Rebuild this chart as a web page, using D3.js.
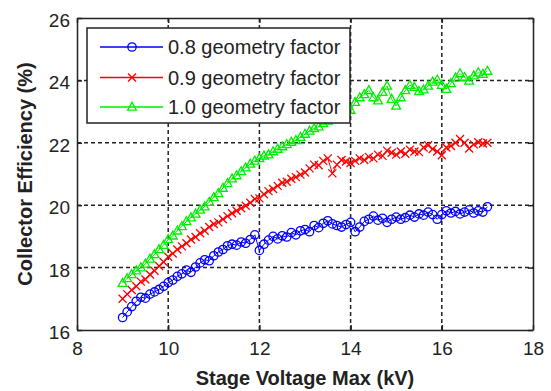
<!DOCTYPE html>
<html>
<head>
<meta charset="utf-8">
<script src="https://cdn.jsdelivr.net/npm/d3@7"></script>
<style>
  body { margin: 0; background: #fff; }
  text { font-family: "Liberation Sans", Arial, sans-serif; fill: #222; }
</style>
</head>
<body>
<svg id="chart" width="551" height="391"></svg>
<script>
// Stage voltage (kV)
const voltage = [
  9.0, 9.1, 9.2, 9.3, 9.4, 9.5, 9.6, 9.7, 9.8, 9.9,
  10.0, 10.1, 10.2, 10.3, 10.4, 10.5, 10.6, 10.7, 10.8, 10.9,
  11.0, 11.1, 11.2, 11.3, 11.4, 11.5, 11.6, 11.7, 11.8, 11.9,
  12.0, 12.1, 12.2, 12.3, 12.4, 12.5, 12.6, 12.7, 12.8, 12.9,
  13.0, 13.1, 13.2, 13.3, 13.4, 13.5, 13.6, 13.7, 13.8, 13.9,
  14.0, 14.1, 14.2, 14.3, 14.4, 14.5, 14.6, 14.7, 14.8, 14.9,
  15.0, 15.1, 15.2, 15.3, 15.4, 15.5, 15.6, 15.7, 15.8, 15.9,
  16.0, 16.1, 16.2, 16.3, 16.4, 16.5, 16.6, 16.7, 16.8, 16.9,
  17.0
];

// Collector efficiency (%) for each geometry factor
const eff08 = [
  16.40, 16.58, 16.75, 16.92, 17.05, 17.02, 17.15, 17.22, 17.30, 17.40,
  17.52, 17.60, 17.72, 17.80, 17.92, 17.85, 18.02, 18.15, 18.25, 18.22,
  18.38, 18.50, 18.58, 18.70, 18.75, 18.72, 18.82, 18.78, 18.90, 19.05,
  18.55, 18.75, 18.88, 19.00, 18.92, 19.02, 18.98, 19.12, 19.05, 19.18,
  19.22, 19.15, 19.35, 19.28, 19.42, 19.50, 19.40, 19.35, 19.30, 19.38,
  19.45, 19.15, 19.30, 19.48, 19.55, 19.65, 19.52, 19.58, 19.45, 19.55,
  19.62, 19.55, 19.60, 19.68, 19.62, 19.72, 19.68, 19.78, 19.70, 19.55,
  19.70, 19.82, 19.75, 19.80, 19.72, 19.78, 19.85, 19.75, 19.82, 19.78,
  19.95
];
const eff09 = [
  17.00, 17.15, 17.28, 17.40, 17.55, 17.62, 17.78, 17.90, 18.05, 18.18,
  18.35, 18.45, 18.58, 18.68, 18.78, 18.90, 18.98, 19.10, 19.18, 19.30,
  19.40, 19.45, 19.55, 19.65, 19.74, 19.82, 19.90, 19.98, 20.08, 20.20,
  20.22, 20.35, 20.45, 20.52, 20.62, 20.72, 20.75, 20.85, 20.90, 20.98,
  21.05, 21.18, 21.30, 21.28, 21.42, 21.50, 21.02, 21.30, 21.45, 21.40,
  21.35, 21.42, 21.50, 21.45, 21.55, 21.50, 21.62, 21.58, 21.75, 21.68,
  21.62, 21.72, 21.65, 21.78, 21.72, 21.70, 21.85, 21.92, 21.80, 21.72,
  21.60, 21.85, 21.90, 22.00, 22.12, 22.00, 21.82, 21.95, 22.02, 21.98,
  22.00
];
const eff10 = [
  17.50, 17.65, 17.78, 17.90, 18.00, 18.12, 18.28, 18.42, 18.58, 18.72,
  18.90, 19.02, 19.18, 19.32, 19.48, 19.60, 19.72, 19.85, 19.95, 20.10,
  20.25, 20.38, 20.55, 20.70, 20.85, 20.95, 21.08, 21.20, 21.32, 21.42,
  21.50, 21.58, 21.62, 21.72, 21.80, 21.88, 21.95, 22.02, 22.08, 22.18,
  22.28, 22.38, 22.46, 22.52, 22.62, 22.70, 22.78, 22.85, 22.92, 23.00,
  23.05, 23.30, 23.45, 23.55, 23.68, 23.45, 23.35, 23.62, 23.82, 23.40,
  23.18, 23.45, 23.68, 23.85, 23.78, 23.65, 23.70, 23.82, 23.95, 24.02,
  23.85, 23.72, 23.90, 24.08, 24.22, 24.10, 23.98, 24.15, 24.25, 24.20,
  24.30
];

const seriesNames = ["0.8 geometry factor", "0.9 geometry factor", "1.0 geometry factor"];
const seriesColors = ["#0000ff", "#ff0000", "#00ee00"];
const seriesMarkers = ["circle", "cross", "triangle"];
const seriesValues = [eff08, eff09, eff10];

const xTicks = [8, 10, 12, 14, 16, 18];
const yTicks = [16, 18, 20, 22, 24, 26];
const xTitle = "Stage Voltage Max (kV)";
const yTitle = "Collector Efficiency (%)";

const svg = d3.select("#chart");
const L = 77, R = 533, T = 18, B = 330;
const x = d3.scaleLinear().domain([8, 18]).range([L, R]);
const y = d3.scaleLinear().domain([16, 26]).range([B, T]);

// dotted grid
const grid = svg.append("g").attr("stroke", "#222").attr("stroke-width", 1.5)
  .attr("stroke-dasharray", "4,3");
grid.selectAll(".gx").data(xTicks.slice(1, -1)).join("line")
  .attr("x1", d => x(d)).attr("x2", d => x(d)).attr("y1", T).attr("y2", B);
grid.selectAll(".gy").data(yTicks.slice(1, -1)).join("line")
  .attr("y1", d => y(d)).attr("y2", d => y(d)).attr("x1", L).attr("x2", R);

// axes with inward ticks on all four sides
function styleAxis(g) {
  g.selectAll(".domain").attr("stroke", "#222").attr("stroke-width", 1.5);
  g.selectAll(".tick line").attr("stroke", "#222").attr("stroke-width", 1.5);
  g.selectAll(".tick text").style("font-size", "19px").attr("fill", "#222");
}
svg.append("g").attr("transform", `translate(0,${B})`)
  .call(d3.axisBottom(x).tickValues(xTicks).tickSizeInner(-5).tickSizeOuter(0).tickPadding(12).tickFormat(d3.format("d")))
  .call(styleAxis);
svg.append("g").attr("transform", `translate(${L},0)`)
  .call(d3.axisLeft(y).tickValues(yTicks).tickSizeInner(-5).tickSizeOuter(0).tickPadding(7).tickFormat(d3.format("d")))
  .call(styleAxis)
  .call(g => g.selectAll(".tick text").attr("dy", "0.45em"));
svg.append("g").attr("transform", `translate(0,${T})`)
  .call(d3.axisTop(x).tickValues(xTicks).tickSizeInner(-5).tickSizeOuter(0).tickFormat(""))
  .call(styleAxis);
svg.append("g").attr("transform", `translate(${R},0)`)
  .call(d3.axisRight(y).tickValues(yTicks).tickSizeInner(-5).tickSizeOuter(0).tickFormat(""))
  .call(styleAxis);

// marker drawing
function drawMarker(g, type, color) {
  if (type === "circle") {
    g.append("circle").attr("r", 4.2).attr("fill", "none").attr("stroke", color).attr("stroke-width", 1.3);
  } else if (type === "cross") {
    g.append("path").attr("d", "M-4,-4L4,4M-4,4L4,-4").attr("fill", "none").attr("stroke", color).attr("stroke-width", 1.3);
  } else {
    g.append("path").attr("d", "M0,-4.8L4.4,3.2L-4.4,3.2Z").attr("fill", "none").attr("stroke", color).attr("stroke-width", 1.3);
  }
}

const line = d3.line().x(d => x(d[0])).y(d => y(d[1]));
seriesValues.forEach((vals, i) => {
  const pts = voltage.map((v, j) => [v, vals[j]]);
  const g = svg.append("g");
  g.append("path").datum(pts).attr("d", line).attr("fill", "none")
    .attr("stroke", seriesColors[i]).attr("stroke-width", 1);
  pts.forEach(p => {
    const m = g.append("g").attr("transform", `translate(${x(p[0])},${y(p[1])})`);
    drawMarker(m, seriesMarkers[i], seriesColors[i]);
  });
});

// legend
const leg = svg.append("g");
leg.append("rect").attr("x", 87).attr("y", 28).attr("width", 263).attr("height", 95)
  .attr("fill", "#fff").attr("stroke", "#222").attr("stroke-width", 1.5);
const rowY = [47, 77.5, 107];
seriesNames.forEach((name, i) => {
  const r = leg.append("g").attr("transform", `translate(0,${rowY[i]})`);
  r.append("line").attr("x1", 100).attr("x2", 163).attr("y1", 0).attr("y2", 0)
    .attr("stroke", seriesColors[i]).attr("stroke-width", 1.3);
  const m = r.append("g").attr("transform", "translate(132,0)");
  drawMarker(m, seriesMarkers[i], seriesColors[i]);
  r.append("text").attr("x", 168).attr("y", 0).attr("dy", "0.36em")
    .style("font-size", "20px").text(name);
});

// axis titles
svg.append("text").attr("x", (L + R) / 2).attr("y", 385).attr("text-anchor", "middle")
  .style("font-size", "20px").style("font-weight", "bold").text(xTitle);
svg.append("text").attr("transform", `translate(32,${(T + B) / 2}) rotate(-90)`)
  .attr("text-anchor", "middle")
  .style("font-size", "20px").style("font-weight", "bold").text(yTitle);
</script>
</body>
</html>
